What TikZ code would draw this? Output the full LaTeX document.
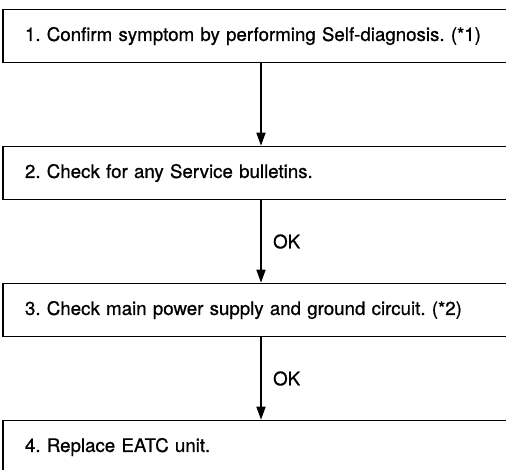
\documentclass[tikz,border=0pt]{standalone}
\usepackage{fontspec}
\setmainfont{TeX Gyre Heros}[FakeBold=0.8]
\usetikzlibrary{positioning,arrows.meta}
\tikzset{
  flow/.style={x=1pt,y=1pt,node distance=137pt,on grid,line width=1.6pt,
    every node/.style={font=\fontsize{18.7}{22}\selectfont}},
  stepbox/.style={draw,rectangle,minimum width=516pt,minimum height=53pt,
    inner xsep=22pt,text width=472pt,align=left},
  arr/.style={-{Triangle[width=9pt,length=13pt]},line width=1.6pt},
}
\frenchspacing

\begin{document}
\begin{tikzpicture}[flow]
  \clip (0,0) rectangle (506,-469);
  \useasboundingbox (0,0) rectangle (506,-469);
  \node[stepbox] (b1) at (261,-36) {1. Confirm symptom by performing Self-diagnosis. (*1)};
  \node[stepbox] (b2) [below=of b1] {2. Check for any Service bulletins.};
  \node[stepbox] (b3) [below=of b2] {3. Check main power supply and ground circuit. (*2)};
  \node[stepbox] (b4) [below=of b3] {4. Replace EATC unit.};
  \draw[arr] (b1) -- (b2);
  \draw[arr] (b2) -- node[right=8pt] (ok1) {OK} (b3);
  \draw[arr] (b3) -- node[right=8pt] (ok2) {OK} (b4);
\end{tikzpicture}
\end{document}
